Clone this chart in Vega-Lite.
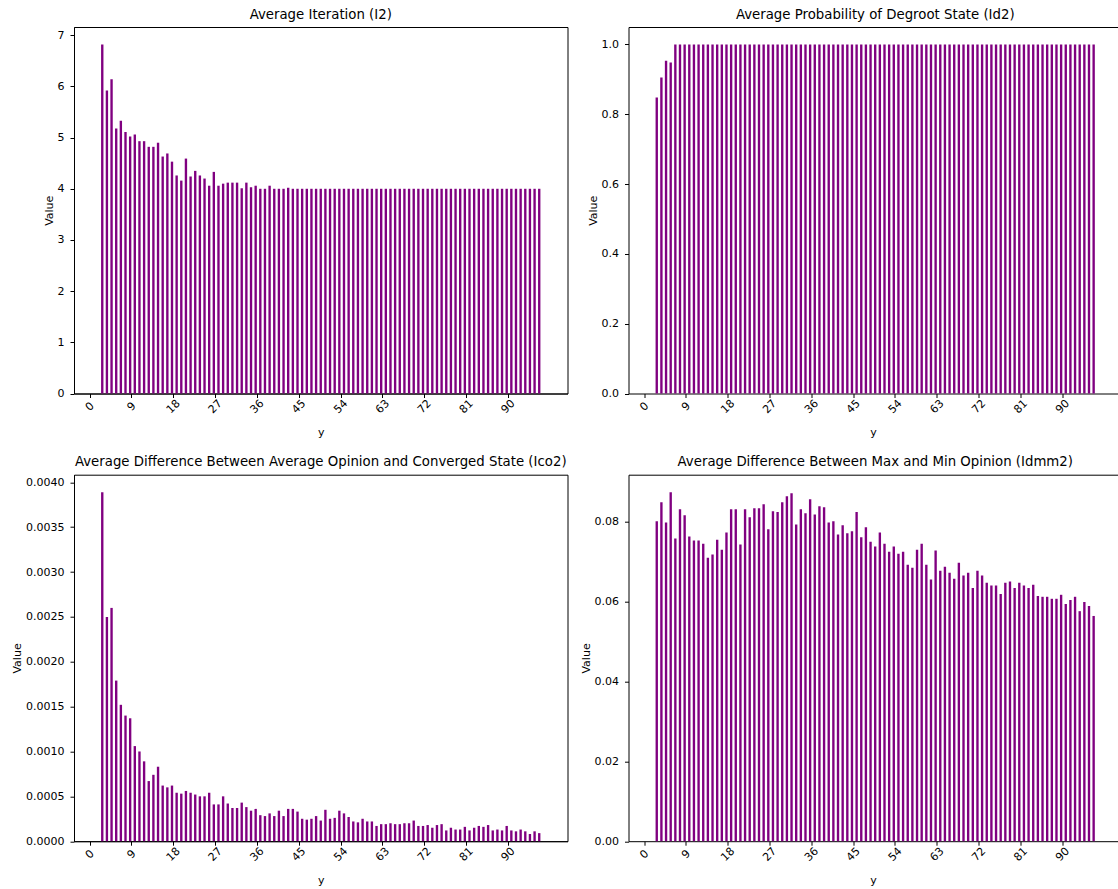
{
  "$schema": "https://vega.github.io/schema/vega-lite/v6.json",
  "padding": {"left": 11, "top": 7, "right": 0, "bottom": 0},
  "background": "white",
  "columns": 2,
  "bounds": "flush",
  "spacing": {"row": 80.7, "column": 60.5},
  "datasets": {
    "iter": [
      {"y": 3, "value": 6.82}, {"y": 4, "value": 5.92}, {"y": 5, "value": 6.14}, {"y": 6, "value": 5.18}, {"y": 7, "value": 5.33},
      {"y": 8, "value": 5.11}, {"y": 9, "value": 5.02}, {"y": 10, "value": 5.06}, {"y": 11, "value": 4.93}, {"y": 12, "value": 4.93},
      {"y": 13, "value": 4.82}, {"y": 14, "value": 4.82}, {"y": 15, "value": 4.9}, {"y": 16, "value": 4.63}, {"y": 17, "value": 4.69},
      {"y": 18, "value": 4.53}, {"y": 19, "value": 4.26}, {"y": 20, "value": 4.16}, {"y": 21, "value": 4.59}, {"y": 22, "value": 4.24},
      {"y": 23, "value": 4.35}, {"y": 24, "value": 4.26}, {"y": 25, "value": 4.2}, {"y": 26, "value": 4.06}, {"y": 27, "value": 4.33},
      {"y": 28, "value": 4.06}, {"y": 29, "value": 4.1}, {"y": 30, "value": 4.12}, {"y": 31, "value": 4.12}, {"y": 32, "value": 4.12},
      {"y": 33, "value": 4.01}, {"y": 34, "value": 4.12}, {"y": 35, "value": 4.03}, {"y": 36, "value": 4.06}, {"y": 37, "value": 4.0},
      {"y": 38, "value": 4.0}, {"y": 39, "value": 4.06}, {"y": 40, "value": 4.0}, {"y": 41, "value": 4.0}, {"y": 42, "value": 4.0},
      {"y": 43, "value": 4.02}, {"y": 44, "value": 4.0}, {"y": 45, "value": 4.0}, {"y": 46, "value": 4.0}, {"y": 47, "value": 4.0},
      {"y": 48, "value": 4.0}, {"y": 49, "value": 4.0}, {"y": 50, "value": 4.0}, {"y": 51, "value": 4.0}, {"y": 52, "value": 4.0},
      {"y": 53, "value": 4.0}, {"y": 54, "value": 4.0}, {"y": 55, "value": 4.0}, {"y": 56, "value": 4.0}, {"y": 57, "value": 4.0},
      {"y": 58, "value": 4.0}, {"y": 59, "value": 4.0}, {"y": 60, "value": 4.0}, {"y": 61, "value": 4.0}, {"y": 62, "value": 4.0},
      {"y": 63, "value": 4.0}, {"y": 64, "value": 4.0}, {"y": 65, "value": 4.0}, {"y": 66, "value": 4.0}, {"y": 67, "value": 4.0},
      {"y": 68, "value": 4.0}, {"y": 69, "value": 4.0}, {"y": 70, "value": 4.0}, {"y": 71, "value": 4.0}, {"y": 72, "value": 4.0},
      {"y": 73, "value": 4.0}, {"y": 74, "value": 4.0}, {"y": 75, "value": 4.0}, {"y": 76, "value": 4.0}, {"y": 77, "value": 4.0},
      {"y": 78, "value": 4.0}, {"y": 79, "value": 4.0}, {"y": 80, "value": 4.0}, {"y": 81, "value": 4.0}, {"y": 82, "value": 4.0},
      {"y": 83, "value": 4.0}, {"y": 84, "value": 4.0}, {"y": 85, "value": 4.0}, {"y": 86, "value": 4.0}, {"y": 87, "value": 4.0},
      {"y": 88, "value": 4.0}, {"y": 89, "value": 4.0}, {"y": 90, "value": 4.0}, {"y": 91, "value": 4.0}, {"y": 92, "value": 4.0},
      {"y": 93, "value": 4.0}, {"y": 94, "value": 4.0}, {"y": 95, "value": 4.0}, {"y": 96, "value": 4.0}, {"y": 97, "value": 4.0}
    ],
    "prob": [
      {"y": 3, "value": 0.848}, {"y": 4, "value": 0.905}, {"y": 5, "value": 0.953}, {"y": 6, "value": 0.948}, {"y": 7, "value": 1.0},
      {"y": 8, "value": 1.0}, {"y": 9, "value": 1.0}, {"y": 10, "value": 1.0}, {"y": 11, "value": 1.0}, {"y": 12, "value": 1.0},
      {"y": 13, "value": 1.0}, {"y": 14, "value": 1.0}, {"y": 15, "value": 1.0}, {"y": 16, "value": 1.0}, {"y": 17, "value": 1.0},
      {"y": 18, "value": 1.0}, {"y": 19, "value": 1.0}, {"y": 20, "value": 1.0}, {"y": 21, "value": 1.0}, {"y": 22, "value": 1.0},
      {"y": 23, "value": 1.0}, {"y": 24, "value": 1.0}, {"y": 25, "value": 1.0}, {"y": 26, "value": 1.0}, {"y": 27, "value": 1.0},
      {"y": 28, "value": 1.0}, {"y": 29, "value": 1.0}, {"y": 30, "value": 1.0}, {"y": 31, "value": 1.0}, {"y": 32, "value": 1.0},
      {"y": 33, "value": 1.0}, {"y": 34, "value": 1.0}, {"y": 35, "value": 1.0}, {"y": 36, "value": 1.0}, {"y": 37, "value": 1.0},
      {"y": 38, "value": 1.0}, {"y": 39, "value": 1.0}, {"y": 40, "value": 1.0}, {"y": 41, "value": 1.0}, {"y": 42, "value": 1.0},
      {"y": 43, "value": 1.0}, {"y": 44, "value": 1.0}, {"y": 45, "value": 1.0}, {"y": 46, "value": 1.0}, {"y": 47, "value": 1.0},
      {"y": 48, "value": 1.0}, {"y": 49, "value": 1.0}, {"y": 50, "value": 1.0}, {"y": 51, "value": 1.0}, {"y": 52, "value": 1.0},
      {"y": 53, "value": 1.0}, {"y": 54, "value": 1.0}, {"y": 55, "value": 1.0}, {"y": 56, "value": 1.0}, {"y": 57, "value": 1.0},
      {"y": 58, "value": 1.0}, {"y": 59, "value": 1.0}, {"y": 60, "value": 1.0}, {"y": 61, "value": 1.0}, {"y": 62, "value": 1.0},
      {"y": 63, "value": 1.0}, {"y": 64, "value": 1.0}, {"y": 65, "value": 1.0}, {"y": 66, "value": 1.0}, {"y": 67, "value": 1.0},
      {"y": 68, "value": 1.0}, {"y": 69, "value": 1.0}, {"y": 70, "value": 1.0}, {"y": 71, "value": 1.0}, {"y": 72, "value": 1.0},
      {"y": 73, "value": 1.0}, {"y": 74, "value": 1.0}, {"y": 75, "value": 1.0}, {"y": 76, "value": 1.0}, {"y": 77, "value": 1.0},
      {"y": 78, "value": 1.0}, {"y": 79, "value": 1.0}, {"y": 80, "value": 1.0}, {"y": 81, "value": 1.0}, {"y": 82, "value": 1.0},
      {"y": 83, "value": 1.0}, {"y": 84, "value": 1.0}, {"y": 85, "value": 1.0}, {"y": 86, "value": 1.0}, {"y": 87, "value": 1.0},
      {"y": 88, "value": 1.0}, {"y": 89, "value": 1.0}, {"y": 90, "value": 1.0}, {"y": 91, "value": 1.0}, {"y": 92, "value": 1.0},
      {"y": 93, "value": 1.0}, {"y": 94, "value": 1.0}, {"y": 95, "value": 1.0}, {"y": 96, "value": 1.0}, {"y": 97, "value": 1.0}
    ],
    "lco": [
      {"y": 3, "value": 0.00389}, {"y": 4, "value": 0.0025}, {"y": 5, "value": 0.0026}, {"y": 6, "value": 0.00179}, {"y": 7, "value": 0.00152},
      {"y": 8, "value": 0.0014}, {"y": 9, "value": 0.00137}, {"y": 10, "value": 0.00106}, {"y": 11, "value": 0.001}, {"y": 12, "value": 0.00089},
      {"y": 13, "value": 0.00067}, {"y": 14, "value": 0.00074}, {"y": 15, "value": 0.00083}, {"y": 16, "value": 0.00062}, {"y": 17, "value": 0.0006},
      {"y": 18, "value": 0.00062}, {"y": 19, "value": 0.00054}, {"y": 20, "value": 0.00053}, {"y": 21, "value": 0.00056}, {"y": 22, "value": 0.00054},
      {"y": 23, "value": 0.00052}, {"y": 24, "value": 0.0005}, {"y": 25, "value": 0.0005}, {"y": 26, "value": 0.00054}, {"y": 27, "value": 0.00041},
      {"y": 28, "value": 0.00041}, {"y": 29, "value": 0.0005}, {"y": 30, "value": 0.00042}, {"y": 31, "value": 0.00037}, {"y": 32, "value": 0.00037},
      {"y": 33, "value": 0.00043}, {"y": 34, "value": 0.00038}, {"y": 35, "value": 0.00034}, {"y": 36, "value": 0.00036}, {"y": 37, "value": 0.00029},
      {"y": 38, "value": 0.00028}, {"y": 39, "value": 0.00031}, {"y": 40, "value": 0.00028}, {"y": 41, "value": 0.00034}, {"y": 42, "value": 0.00028},
      {"y": 43, "value": 0.00036}, {"y": 44, "value": 0.00036}, {"y": 45, "value": 0.00033}, {"y": 46, "value": 0.00025}, {"y": 47, "value": 0.00024},
      {"y": 48, "value": 0.00025}, {"y": 49, "value": 0.00028}, {"y": 50, "value": 0.00023}, {"y": 51, "value": 0.00035}, {"y": 52, "value": 0.00025},
      {"y": 53, "value": 0.00026}, {"y": 54, "value": 0.00034}, {"y": 55, "value": 0.00031}, {"y": 56, "value": 0.00027}, {"y": 57, "value": 0.00022},
      {"y": 58, "value": 0.00021}, {"y": 59, "value": 0.00025}, {"y": 60, "value": 0.00022}, {"y": 61, "value": 0.00022}, {"y": 62, "value": 0.00017},
      {"y": 63, "value": 0.00019}, {"y": 64, "value": 0.00019}, {"y": 65, "value": 0.0002}, {"y": 66, "value": 0.00019}, {"y": 67, "value": 0.00019},
      {"y": 68, "value": 0.0002}, {"y": 69, "value": 0.0002}, {"y": 70, "value": 0.00023}, {"y": 71, "value": 0.00017}, {"y": 72, "value": 0.00017},
      {"y": 73, "value": 0.00018}, {"y": 74, "value": 0.00015}, {"y": 75, "value": 0.00018}, {"y": 76, "value": 0.00019}, {"y": 77, "value": 0.00012},
      {"y": 78, "value": 0.00015}, {"y": 79, "value": 0.00013}, {"y": 80, "value": 0.00013}, {"y": 81, "value": 0.00016}, {"y": 82, "value": 0.00012},
      {"y": 83, "value": 0.00015}, {"y": 84, "value": 0.00017}, {"y": 85, "value": 0.00016}, {"y": 86, "value": 0.00018}, {"y": 87, "value": 0.00012},
      {"y": 88, "value": 0.00013}, {"y": 89, "value": 0.00012}, {"y": 90, "value": 0.00017}, {"y": 91, "value": 0.00012}, {"y": 92, "value": 0.00011},
      {"y": 93, "value": 0.00013}, {"y": 94, "value": 0.00011}, {"y": 95, "value": 0.00008}, {"y": 96, "value": 0.00011}, {"y": 97, "value": 0.00009}
    ],
    "ldmm": [
      {"y": 3, "value": 0.0801}, {"y": 4, "value": 0.0849}, {"y": 5, "value": 0.0798}, {"y": 6, "value": 0.0874}, {"y": 7, "value": 0.0758},
      {"y": 8, "value": 0.0831}, {"y": 9, "value": 0.0816}, {"y": 10, "value": 0.0763}, {"y": 11, "value": 0.0753}, {"y": 12, "value": 0.0753},
      {"y": 13, "value": 0.0745}, {"y": 14, "value": 0.071}, {"y": 15, "value": 0.0718}, {"y": 16, "value": 0.0755}, {"y": 17, "value": 0.073},
      {"y": 18, "value": 0.0773}, {"y": 19, "value": 0.0831}, {"y": 20, "value": 0.0831}, {"y": 21, "value": 0.0743}, {"y": 22, "value": 0.0831},
      {"y": 23, "value": 0.0811}, {"y": 24, "value": 0.0834}, {"y": 25, "value": 0.0834}, {"y": 26, "value": 0.0844}, {"y": 27, "value": 0.0781},
      {"y": 28, "value": 0.0826}, {"y": 29, "value": 0.0824}, {"y": 30, "value": 0.0849}, {"y": 31, "value": 0.0864}, {"y": 32, "value": 0.0871},
      {"y": 33, "value": 0.0793}, {"y": 34, "value": 0.0831}, {"y": 35, "value": 0.0821}, {"y": 36, "value": 0.0856}, {"y": 37, "value": 0.0818},
      {"y": 38, "value": 0.0839}, {"y": 39, "value": 0.0836}, {"y": 40, "value": 0.0798}, {"y": 41, "value": 0.0801}, {"y": 42, "value": 0.0768},
      {"y": 43, "value": 0.0791}, {"y": 44, "value": 0.0771}, {"y": 45, "value": 0.0776}, {"y": 46, "value": 0.0824}, {"y": 47, "value": 0.0761},
      {"y": 48, "value": 0.0786}, {"y": 49, "value": 0.075}, {"y": 50, "value": 0.0738}, {"y": 51, "value": 0.0773}, {"y": 52, "value": 0.0745},
      {"y": 53, "value": 0.0725}, {"y": 54, "value": 0.0738}, {"y": 55, "value": 0.072}, {"y": 56, "value": 0.0725}, {"y": 57, "value": 0.0692},
      {"y": 58, "value": 0.0685}, {"y": 59, "value": 0.073}, {"y": 60, "value": 0.0745}, {"y": 61, "value": 0.0692}, {"y": 62, "value": 0.0655},
      {"y": 63, "value": 0.0728}, {"y": 64, "value": 0.0677}, {"y": 65, "value": 0.0687}, {"y": 66, "value": 0.0672}, {"y": 67, "value": 0.0657},
      {"y": 68, "value": 0.0697}, {"y": 69, "value": 0.0665}, {"y": 70, "value": 0.0672}, {"y": 71, "value": 0.0634}, {"y": 72, "value": 0.0677},
      {"y": 73, "value": 0.0665}, {"y": 74, "value": 0.0647}, {"y": 75, "value": 0.064}, {"y": 76, "value": 0.064}, {"y": 77, "value": 0.0619},
      {"y": 78, "value": 0.0647}, {"y": 79, "value": 0.065}, {"y": 80, "value": 0.0634}, {"y": 81, "value": 0.0647}, {"y": 82, "value": 0.064},
      {"y": 83, "value": 0.0634}, {"y": 84, "value": 0.0642}, {"y": 85, "value": 0.0614}, {"y": 86, "value": 0.0612}, {"y": 87, "value": 0.0612},
      {"y": 88, "value": 0.0607}, {"y": 89, "value": 0.0607}, {"y": 90, "value": 0.0617}, {"y": 91, "value": 0.0594}, {"y": 92, "value": 0.0604},
      {"y": 93, "value": 0.0612}, {"y": 94, "value": 0.0576}, {"y": 95, "value": 0.0599}, {"y": 96, "value": 0.0589}, {"y": 97, "value": 0.0564}
    ]
  },
  "concat": [
    {
      "title": "Average Iteration (I2)",
      "width": 493.5,
      "height": 366.5,
      "view": {"stroke": "black", "strokeWidth": 1},
      "data": {"name": "iter"},
      "mark": {"type": "bar", "orient": "vertical", "color": "#800080", "size": 2.37, "xOffset": -1.19},
      "encoding": {
        "x": {"field": "y", "type": "quantitative", "title": "y",
              "scale": {"domain": [-2.26, 101.75], "nice": false, "zero": false},
              "axis": {"values": [0, 9, 18, 27, 36, 45, 54, 63, 72, 81, 90], "format": "d"}},
        "y": {"field": "value", "type": "quantitative", "title": "Value",
              "scale": {"domain": [0, 7.161], "nice": false},
              "axis": {"values": [0, 1, 2, 3, 4, 5, 6, 7], "format": "d"}}
      }
    },
    {
      "title": {"text": "Average Probability of Degroot State (Id2)", "dx": 2.25},
      "width": 489,
      "height": 366.5,
      "data": {"name": "prob"},
      "layer": [
        {
          "mark": {"type": "bar", "orient": "vertical", "color": "#800080", "size": 2.37, "xOffset": -1.19},
          "encoding": {
            "x": {"field": "y", "type": "quantitative", "title": "y",
                  "scale": {"domain": [-2.26, 100.8], "nice": false, "zero": false},
                  "axis": {"values": [0, 9, 18, 27, 36, 45, 54, 63, 72, 81, 90], "format": "d"}},
            "y": {"field": "value", "type": "quantitative", "title": "Value",
                  "scale": {"domain": [0, 1.05], "nice": false},
                  "axis": {"values": [0, 0.2, 0.4, 0.6, 0.8, 1.0], "format": ".1f"}}
          }
        },
        {
          "mark": {"type": "rule", "opacity": 0},
          "encoding": {
            "x": {"field": "y", "type": "quantitative",
                  "axis": {"orient": "top", "labels": false, "ticks": false, "title": null, "domain": true}}
          }
        }
      ],
      "resolve": {"axis": {"x": "independent"}}
    },
    {
      "title": "Average Difference Between Average Opinion and Converged State (Ico2)",
      "width": 493.5,
      "height": 366.5,
      "view": {"stroke": "black", "strokeWidth": 1},
      "data": {"name": "lco"},
      "mark": {"type": "bar", "orient": "vertical", "color": "#800080", "size": 2.37, "xOffset": -1.19},
      "encoding": {
        "x": {"field": "y", "type": "quantitative", "title": "y",
              "scale": {"domain": [-2.26, 101.75], "nice": false, "zero": false},
              "axis": {"values": [0, 9, 18, 27, 36, 45, 54, 63, 72, 81, 90], "format": "d"}},
        "y": {"field": "value", "type": "quantitative", "title": "Value",
              "scale": {"domain": [0, 0.0040845], "nice": false},
              "axis": {"values": [0, 0.0005, 0.001, 0.0015, 0.002, 0.0025, 0.003, 0.0035, 0.004], "format": ".4f"}}
      }
    },
    {
      "title": {"text": "Average Difference Between Max and Min Opinion (Idmm2)", "dx": 2.25},
      "width": 489,
      "height": 366.5,
      "data": {"name": "ldmm"},
      "layer": [
        {
          "mark": {"type": "bar", "orient": "vertical", "color": "#800080", "size": 2.37, "xOffset": -1.19},
          "encoding": {
            "x": {"field": "y", "type": "quantitative", "title": "y",
                  "scale": {"domain": [-2.26, 100.8], "nice": false, "zero": false},
                  "axis": {"values": [0, 9, 18, 27, 36, 45, 54, 63, 72, 81, 90], "format": "d"}},
            "y": {"field": "value", "type": "quantitative", "title": "Value",
                  "scale": {"domain": [0, 0.09177], "nice": false},
                  "axis": {"values": [0, 0.02, 0.04, 0.06, 0.08], "format": ".2f"}}
          }
        },
        {
          "mark": {"type": "rule", "opacity": 0},
          "encoding": {
            "x": {"field": "y", "type": "quantitative",
                  "axis": {"orient": "top", "labels": false, "ticks": false, "title": null, "domain": true}}
          }
        }
      ],
      "resolve": {"axis": {"x": "independent"}}
    }
  ],
  "config": {
    "font": "DejaVu Sans",
    "view": {"stroke": null},
    "axis": {
      "grid": false,
      "domainColor": "black",
      "domainWidth": 1,
      "tickColor": "black",
      "tickWidth": 1,
      "tickSize": 4,
      "labelColor": "black",
      "labelFont": "DejaVu Sans",
      "labelFontSize": 11,
      "labelOverlap": false,
      "labelFlush": false,
      "titleColor": "black",
      "titleFont": "DejaVu Sans",
      "titleFontSize": 11,
      "titleFontWeight": "normal"
    },
    "axisX": {"labelAngle": -45, "labelAlign": "center", "labelBaseline": "middle", "labelPadding": 9, "titlePadding": 12},
    "axisY": {"labelPadding": 6, "titlePadding": 3},
    "title": {"font": "DejaVu Sans", "fontSize": 13.3, "fontWeight": "normal", "color": "black", "anchor": "middle", "offset": 6}
  }
}
